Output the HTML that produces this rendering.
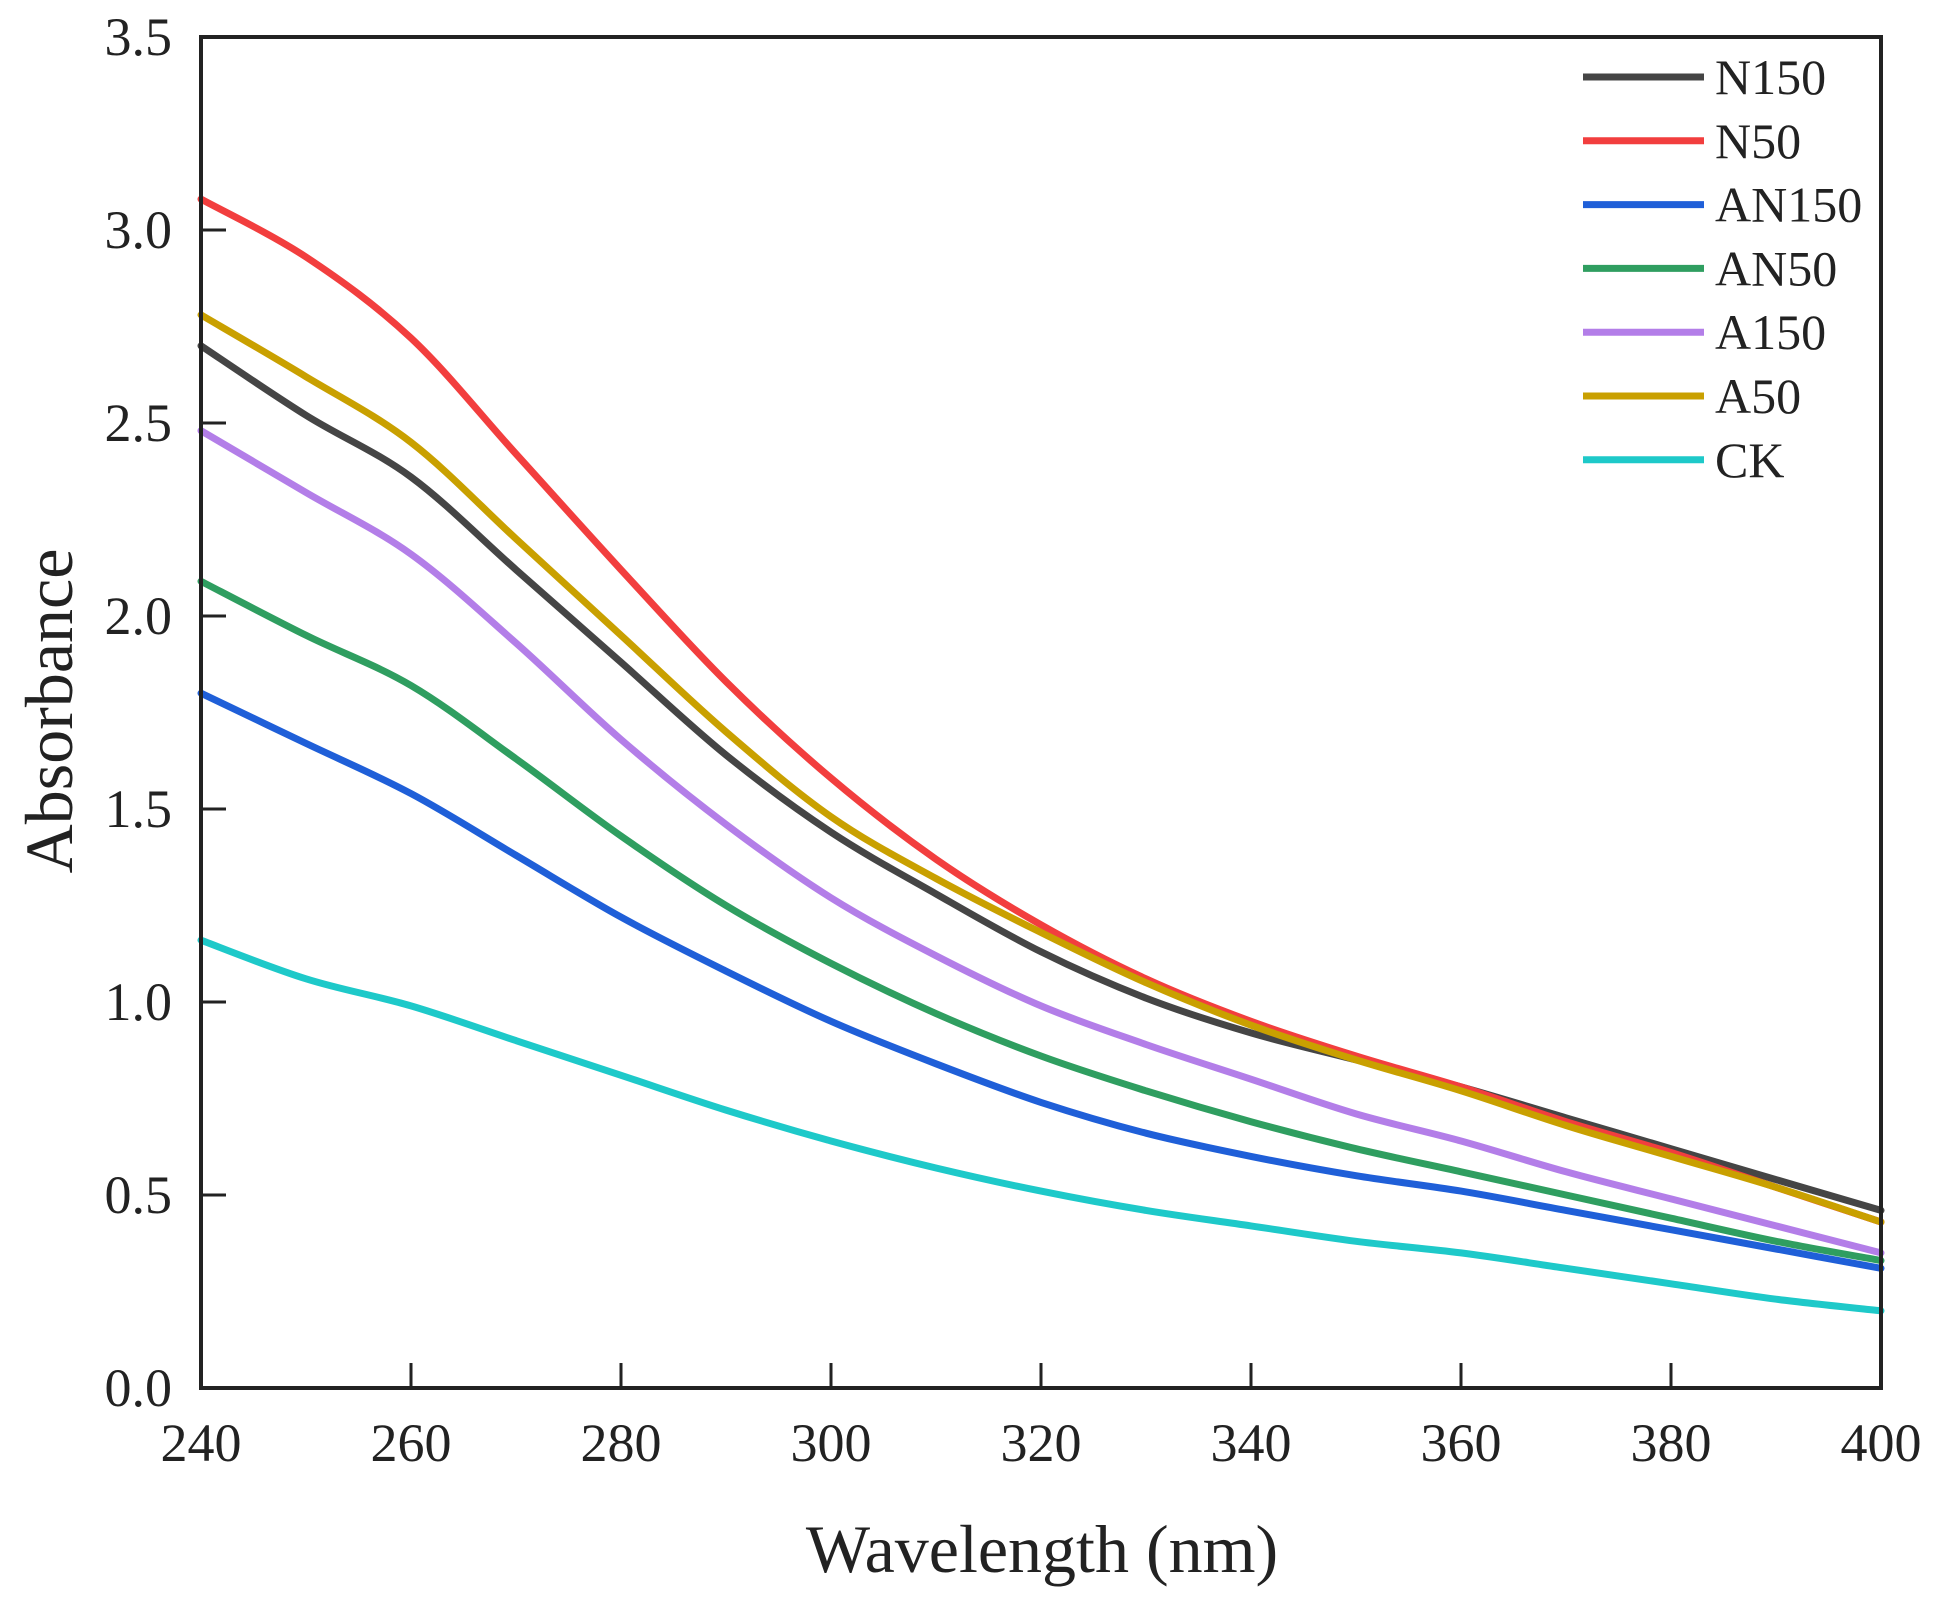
<!DOCTYPE html>
<html><head><meta charset="utf-8"><style>
html,body{margin:0;padding:0;background:#fff;}
svg{display:block;font-family:"Liberation Serif",serif;}
</style></head><body>
<svg id="chart" width="1939" height="1605" viewBox="0 0 1939 1605" xmlns="http://www.w3.org/2000/svg">
<g id="plot"></g>
</svg>
<script>
const wavelengths=[240,250,260,270,280,290,300,310,320,330,340,350,360,370,380,390,400];
const seriesNames=["N150","N50","AN150","AN50","A150","A50","CK"];
const N150=[2.7,2.52,2.36,2.12,1.88,1.64,1.44,1.28,1.13,1.01,0.92,0.85,0.78,0.7,0.62,0.54,0.46];
const N50=[3.08,2.93,2.72,2.42,2.12,1.83,1.58,1.37,1.2,1.06,0.95,0.86,0.78,0.69,0.61,0.52,0.43];
const AN150=[1.8,1.67,1.54,1.38,1.22,1.08,0.95,0.84,0.74,0.66,0.6,0.55,0.51,0.46,0.41,0.36,0.31];
const AN50=[2.09,1.95,1.82,1.63,1.43,1.25,1.1,0.97,0.86,0.77,0.69,0.62,0.56,0.5,0.44,0.38,0.33];
const A150=[2.48,2.32,2.16,1.93,1.68,1.46,1.27,1.12,0.99,0.89,0.8,0.71,0.64,0.56,0.49,0.42,0.35];
const A50=[2.78,2.62,2.45,2.2,1.95,1.7,1.48,1.32,1.18,1.05,0.94,0.85,0.77,0.68,0.6,0.52,0.43];
const CK=[1.16,1.06,0.99,0.9,0.81,0.72,0.64,0.57,0.51,0.46,0.42,0.38,0.35,0.31,0.27,0.23,0.2];
const xTicks=[240,260,280,300,320,340,360,380,400];
const yTicks=["0.0","0.5","1.0","1.5","2.0","2.5","3.0","3.5"];

const colors=["#454545","#f23e3e","#1f5fd8","#2f9e60","#b37ee8","#c9a000","#1ec9c9"];
const dataSets=[N150,N50,AN150,AN50,A150,A50,CK];
const L=201,R=1881,T=37,B=1388;
const X=v=>L+(v-240)/(400-240)*(R-L);
const Y=v=>B-v/3.5*(B-T);
const NS="http://www.w3.org/2000/svg";
const g=document.getElementById('plot');
function mk(tag,attrs,parent){const e=document.createElementNS(NS,tag);for(const k in attrs)e.setAttribute(k,attrs[k]);(parent||g).appendChild(e);return e;}
function smooth(p){
  let d="M"+p[0][0].toFixed(1)+","+p[0][1].toFixed(1);
  for(let i=0;i<p.length-1;i++){
    const p0=p[i-1]||p[i],p1=p[i],p2=p[i+1],p3=p[i+2]||p2;
    const c1x=p1[0]+(p2[0]-p0[0])/6,c1y=p1[1]+(p2[1]-p0[1])/6;
    const c2x=p2[0]-(p3[0]-p1[0])/6,c2y=p2[1]-(p3[1]-p1[1])/6;
    d+=" C"+c1x.toFixed(1)+","+c1y.toFixed(1)+" "+c2x.toFixed(1)+","+c2y.toFixed(1)+" "+p2[0].toFixed(1)+","+p2[1].toFixed(1);
  }
  return d;
}
dataSets.forEach((d,i)=>{
  const pts=d.map((v,j)=>[X(wavelengths[j]),Y(v)]);
  const p=mk('path',{d:smooth(pts),fill:'none',stroke:colors[i],'stroke-width':7,'stroke-linejoin':'round','stroke-linecap':'round'});
  
  
});
const fr=mk('rect',{x:L,y:T,width:R-L,height:B-T,fill:'none',stroke:'#222','stroke-width':4});


xTicks.forEach(t=>{
  const ln=mk('line',{x1:X(t),x2:X(t),y1:B,y2:B-25,stroke:'#222','stroke-width':3});
  
  
  const tx=mk('text',{x:X(t),y:1461,'text-anchor':'middle','font-size':54,fill:'#222'});
  tx.textContent=t;
  
  
});
yTicks.forEach(t=>{
  const v=parseFloat(t);
  const ln=mk('line',{x1:L,x2:L+25,y1:Y(v),y2:Y(v),stroke:'#222','stroke-width':3});
  
  
  const tx=mk('text',{x:172,y:Y(v)+18,'text-anchor':'end','font-size':54,fill:'#222'});
  tx.textContent=t;
  
  
});
const xt=mk('text',{x:1042,y:1572,'text-anchor':'middle','font-size':68,fill:'#222'});
xt.textContent='Wavelength (nm)';


const yt=mk('text',{x:0,y:0,'text-anchor':'middle','font-size':68,fill:'#222',transform:'translate(72,711) rotate(-90)'});
yt.textContent='Absorbance';


seriesNames.forEach((n,i)=>{
  const y=77+i*63.8;
  const ln=mk('line',{x1:1583,x2:1704,y1:y,y2:y,stroke:colors[i],'stroke-width':7});
  
  
  const tx=mk('text',{x:1715,y:y+17,'font-size':50,fill:'#222'});
  tx.textContent=n;
  
  
});
</script>
</body></html>
